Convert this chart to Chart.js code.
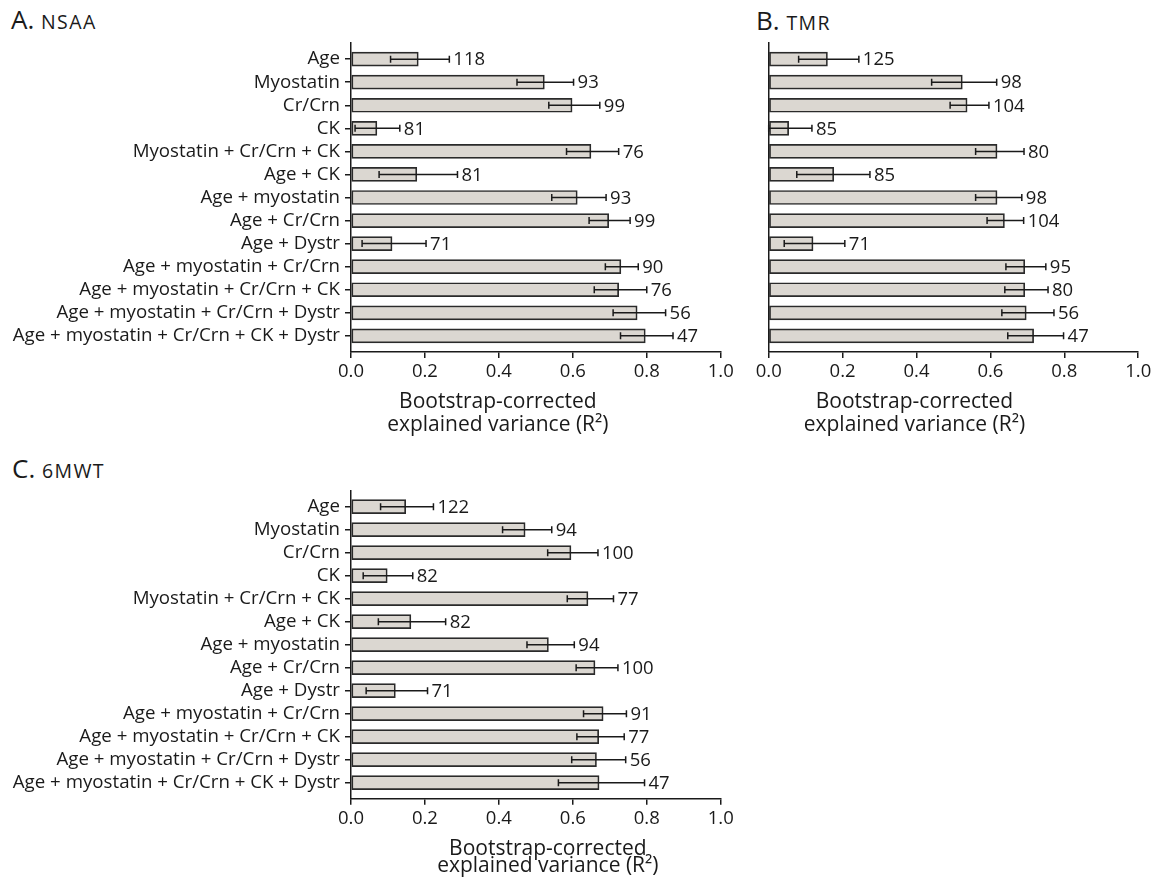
<!DOCTYPE html>
<html><head><meta charset="utf-8">
<script src="https://cdn.jsdelivr.net/npm/chart.js@4.4.1/dist/chart.umd.min.js"></script>
<style>
html,body{margin:0;padding:0;background:#fff;}
body{width:1157px;height:883px;position:relative;overflow:hidden;font-family:"Open Sans",sans-serif;color:#1a1a1a;}
.wrap{position:absolute;}
.ptitle{position:absolute;font-size:26px;line-height:26px;white-space:nowrap;}
.ptitle span{font-size:19.5px;letter-spacing:1.4px;}
</style></head><body>
<div class="ptitle" style="left:11px;top:6px">A. <span>NSAA</span></div>
<div class="ptitle" style="left:756px;top:7px">B. <span>TMR</span></div>
<div class="ptitle" style="left:12px;top:455px">C. <span>6MWT</span></div>
<div class="wrap" style="left:0;top:0;width:745px;height:440px"><canvas id="cA"></canvas></div>
<div class="wrap" style="left:745px;top:0;width:412px;height:440px"><canvas id="cB"></canvas></div>
<div class="wrap" style="left:0;top:440px;width:745px;height:443px"><canvas id="cC"></canvas></div>
<script>
const categories = ['Age','Myostatin','Cr/Crn','CK','Myostatin + Cr/Crn + CK','Age + CK','Age + myostatin','Age + Cr/Crn','Age + Dystr','Age + myostatin + Cr/Crn','Age + myostatin + Cr/Crn + CK','Age + myostatin + Cr/Crn + Dystr','Age + myostatin + Cr/Crn + CK + Dystr'];

const nsaaR2   = [0.182,0.523,0.598,0.070,0.649,0.178,0.612,0.697,0.111,0.730,0.724,0.774,0.796];
const nsaaLow  = [0.107,0.449,0.535,0.011,0.583,0.076,0.543,0.644,0.030,0.688,0.658,0.709,0.729];
const nsaaHigh = [0.266,0.602,0.673,0.132,0.724,0.288,0.690,0.755,0.203,0.777,0.800,0.851,0.871];
const nsaaN    = [118,93,99,81,76,81,93,99,71,90,76,56,47];

const tmrR2   = [0.159,0.524,0.537,0.054,0.618,0.176,0.618,0.638,0.120,0.693,0.693,0.697,0.717];
const tmrLow  = [0.081,0.441,0.491,0.000,0.560,0.076,0.560,0.591,0.042,0.642,0.639,0.631,0.647];
const tmrHigh = [0.244,0.617,0.596,0.117,0.691,0.274,0.685,0.690,0.206,0.750,0.756,0.772,0.798];
const tmrN    = [125,98,104,85,80,85,98,104,71,95,80,56,47];

const mwtR2   = [0.148,0.471,0.595,0.098,0.641,0.162,0.534,0.660,0.120,0.682,0.670,0.664,0.671];
const mwtLow  = [0.080,0.410,0.532,0.033,0.585,0.074,0.476,0.609,0.041,0.629,0.611,0.597,0.561];
const mwtHigh = [0.223,0.543,0.668,0.167,0.710,0.256,0.604,0.722,0.207,0.745,0.739,0.743,0.794];
const mwtN    = [122,94,100,82,77,82,94,100,71,91,77,56,47];

const xTickValues = [0,0.2,0.4,0.6,0.8,1.0];
const xTickLabels = ['0.0','0.2','0.4','0.6','0.8','1.0'];
const axisTitleLines = ['Bootstrap-corrected','explained variance (R\u00B2)'];

const FONT = '"Open Sans", sans-serif';
const INK = '#1a1a1a';

function extras(low, high, n, t) {
  return {
    id: 'extras',
    afterDatasetsDraw(chart) {
      const {ctx, scales: {x, y}} = chart;
      ctx.save();
      ctx.strokeStyle = INK; ctx.lineWidth = 1.5;
      ctx.fillStyle = INK;
      ctx.font = '18.5px ' + FONT;
      ctx.textBaseline = 'middle'; ctx.textAlign = 'left';
      low.forEach((lo, i) => {
        const yy = y.getPixelForValue(i);
        const x1 = x.getPixelForValue(lo), x2 = x.getPixelForValue(high[i]);
        ctx.beginPath();
        ctx.moveTo(x1, yy); ctx.lineTo(x2, yy);
        ctx.moveTo(x1, yy - 3.5); ctx.lineTo(x1, yy + 3.5);
        ctx.moveTo(x2, yy - 3.5); ctx.lineTo(x2, yy + 3.5);
        ctx.stroke();
        ctx.fillText(String(n[i]), x2 + 4, yy + 1);
      });
      ctx.restore();
    },
    afterDraw(chart) {
      const {ctx, scales: {x}} = chart;
      ctx.save();
      ctx.fillStyle = INK;
      ctx.font = '21px ' + FONT;
      ctx.textAlign = 'center'; ctx.textBaseline = 'alphabetic';
      const cx = (x.left + x.right) / 2 + t.dx;
      ctx.fillText(axisTitleLines[0], cx, x.top + t.y1);
      ctx.fillText(axisTitleLines[1], cx, x.top + t.y2);
      ctx.restore();
    }
  };
}

function makeChart(id, r2, low, high, n, o) {
  new Chart(document.getElementById(id), {
    type: 'bar',
    data: {
      datasets: [{
        data: r2.map((v, i) => ({x: v, y: i})),
        backgroundColor: '#dbd7d1',
        borderColor: '#2a2a2a',
        borderWidth: 1.7,
        borderSkipped: false,
        barThickness: 14
      }]
    },
    options: {
      indexAxis: 'y',
      responsive: true,
      maintainAspectRatio: false,
      animation: false,
      layout: {padding: o.padding},
      plugins: {legend: {display: false}, tooltip: {enabled: false}, title: {display: false}},
      scales: {
        y: {
          type: 'linear', reverse: true, min: -0.7, max: 12.7, offset: false,
          afterBuildTicks: (s) => { s.ticks = categories.map((_, i) => ({value: i})); },
          afterFit: (s) => { s.width = o.yWidth; },
          grid: {display: true, offset: false, drawOnChartArea: false, drawTicks: o.showLabels, tickLength: 6, color: INK, lineWidth: 1.5},
          border: {display: true, color: INK, width: 1.5},
          ticks: {display: o.showLabels, autoSkip: false, padding: 5, color: INK,
                  font: {family: FONT, size: 18.7},
                  callback: (v) => categories[v]}
        },
        x: {
          type: 'linear', min: 0, max: 1, offset: false,
          afterBuildTicks: (s) => { s.ticks = xTickValues.map(v => ({value: v})); },
          afterFit: (s) => { s.height = o.xHeight; },
          grid: {display: true, offset: false, drawOnChartArea: false, drawTicks: true, tickLength: 6, color: INK, lineWidth: 1.5},
          border: {display: true, color: INK, width: 1.5},
          ticks: {autoSkip: false, maxRotation: 0, padding: 3, color: INK,
                  font: {family: FONT, size: 18.5},
                  callback: (v, i) => xTickLabels[i]}
        }
      }
    },
    plugins: [extras(low, high, n, o.title)]
  });
}

makeChart('cA', nsaaR2, nsaaLow, nsaaHigh, nsaaN, {
  padding: {left: 0, top: 43, right: 24.3, bottom: 0}, yWidth: 351, xHeight: 88, showLabels: true,
  title: {dx: -38, y1: 55.7, y2: 78.7}
});
makeChart('cB', tmrR2, tmrLow, tmrHigh, tmrN, {
  padding: {left: 0, top: 43, right: 18.8, bottom: 0}, yWidth: 23.7, xHeight: 88, showLabels: false,
  title: {dx: -39, y1: 55.7, y2: 78.7}
});
makeChart('cC', mwtR2, mwtLow, mwtHigh, mwtN, {
  padding: {left: 0, top: 50.6, right: 24.3, bottom: 0}, yWidth: 351, xHeight: 84.2, showLabels: true,
  title: {dx: 12, y1: 55.7, y2: 73.5}
});
</script>
</body></html>
